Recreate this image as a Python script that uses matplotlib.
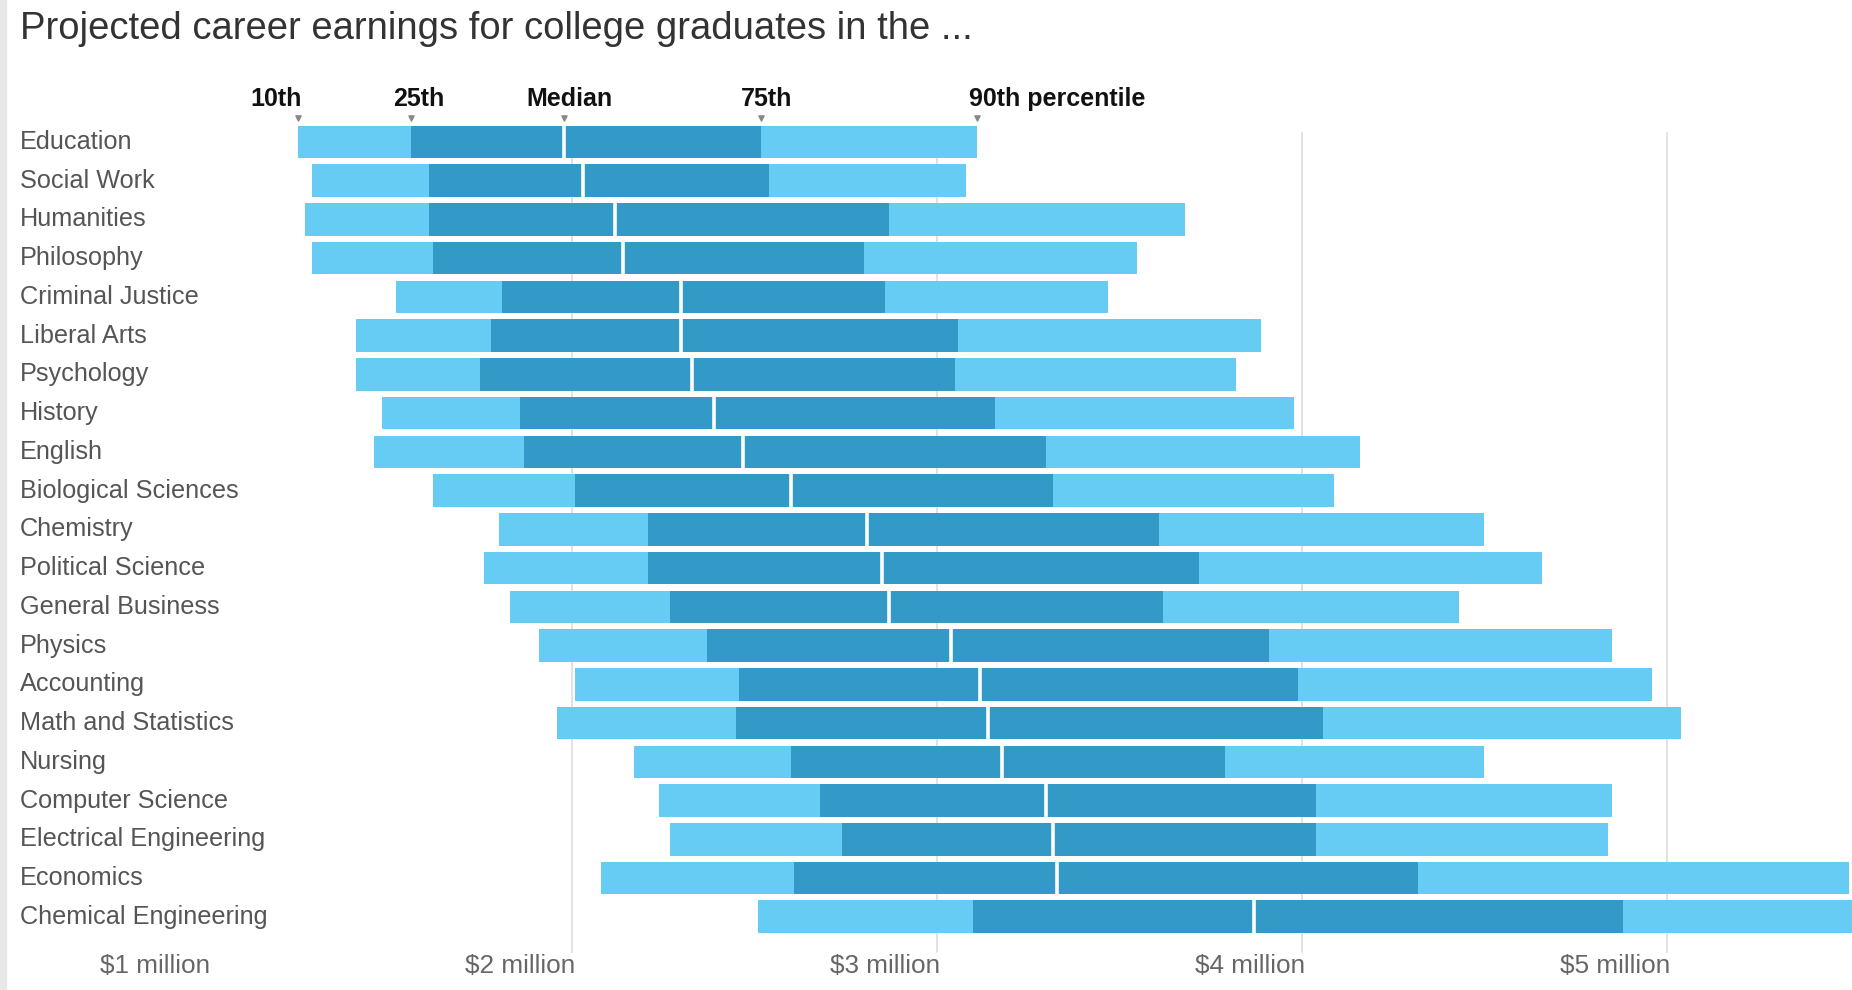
import matplotlib.pyplot as plt
import matplotlib.patches as mpatches

# values in $ million
majors = [
    "Education", "Social Work", "Humanities", "Philosophy", "Criminal Justice",
    "Liberal Arts", "Psychology", "History", "English", "Biological Sciences",
    "Chemistry", "Political Science", "General Business", "Physics", "Accounting",
    "Math and Statistics", "Nursing", "Computer Science", "Electrical Engineering",
    "Economics", "Chemical Engineering",
]
p10 = [1.25, 1.29, 1.27, 1.29, 1.52, 1.41, 1.41, 1.48, 1.46, 1.62, 1.80,
       1.76, 1.83, 1.91, 2.01, 1.96, 2.17, 2.24, 2.27, 2.08, 2.51]
p25 = [1.56, 1.61, 1.61, 1.62, 1.81, 1.78, 1.75, 1.86, 1.87, 2.01, 2.21,
       2.21, 2.27, 2.37, 2.46, 2.45, 2.60, 2.68, 2.74, 2.61, 3.10]
median = [1.98, 2.03, 2.12, 2.14, 2.30, 2.30, 2.33, 2.39, 2.47, 2.60, 2.81,
          2.85, 2.87, 3.04, 3.12, 3.14, 3.18, 3.30, 3.32, 3.33, 3.87]
p75 = [2.52, 2.54, 2.87, 2.80, 2.86, 3.06, 3.05, 3.16, 3.30, 3.32, 3.61,
       3.72, 3.62, 3.91, 3.99, 4.06, 3.79, 4.04, 4.04, 4.32, 4.88]
p90 = [3.11, 3.08, 3.68, 3.55, 3.47, 3.89, 3.82, 3.98, 4.16, 4.09, 4.50,
       4.66, 4.43, 4.85, 4.96, 5.04, 4.50, 4.85, 4.84, 5.50, 5.70]

tick_values = [1, 2, 3, 4, 5]
tick_labels = ["$1 million", "$2 million", "$3 million", "$4 million", "$5 million"]
header_labels = ["10th", "25th", "Median", "75th", "90th percentile"]

light = "#66CCF4"
dark = "#3399C6"
font = ["Liberation Sans", "DejaVu Sans"]

fig = plt.figure(figsize=(18.52, 9.9), dpi=100)
ax = fig.add_axes([0, 0, 1, 1])
ax.set_xlim(0.434, 5.508)
ax.set_ylim(21.89, -3.66)
ax.axis("off")

# light strip at the left edge of the screenshot
fig.patches.append(mpatches.Rectangle((0, 0), 0.0035, 1, transform=fig.transFigure,
                                      color="#e8e8e8", zorder=0))

for v in tick_values[1:]:
    ax.plot([v, v], [-0.24, 20.9], color="#dddddd", lw=1.2, zorder=0)

h = 0.84
for i, name in enumerate(majors):
    ax.barh(i, p90[i] - p10[i], left=p10[i], height=h, color=light, zorder=2)
    ax.barh(i, p75[i] - p25[i], left=p25[i], height=h, color=dark, zorder=3)
    ax.plot([median[i], median[i]], [i - h / 2, i + h / 2], color="white", lw=2.6,
            zorder=4, solid_capstyle="butt")
    ax.text(0.0108, i, name, transform=ax.get_yaxis_transform(), ha="left",
            va="center", fontsize=18.2, color="#555555", family=font)

# percentile header over the first bar
first = [p10[0], p25[0], median[0], p75[0], p90[0]]
aligns = ["right", "center", "center", "center", "left"]
offsets = [0.01, 0.02, 0.015, 0.015, -0.02]
for v, lab, ha, off in zip(first, header_labels, aligns, offsets):
    ax.text(v + off, -1.1, lab, ha=ha, va="center", fontsize=18,
            fontweight="bold", color="#111111", family=font)
ax.scatter(first, [-0.62] * 5, marker="v", s=14, color="#888888", zorder=5)

for v, lab in zip(tick_values, tick_labels):
    ax.text(v + 0.01, 21.28, lab, ha="right", va="center", fontsize=18.8,
            color="#666666", family=font)

ax.text(0.0108, -2.9, "Projected career earnings for college graduates in the ...",
        transform=ax.get_yaxis_transform(), ha="left", va="center",
        fontsize=27.5, color="#333333", family=font)

fig.savefig("out.png", dpi=100)
